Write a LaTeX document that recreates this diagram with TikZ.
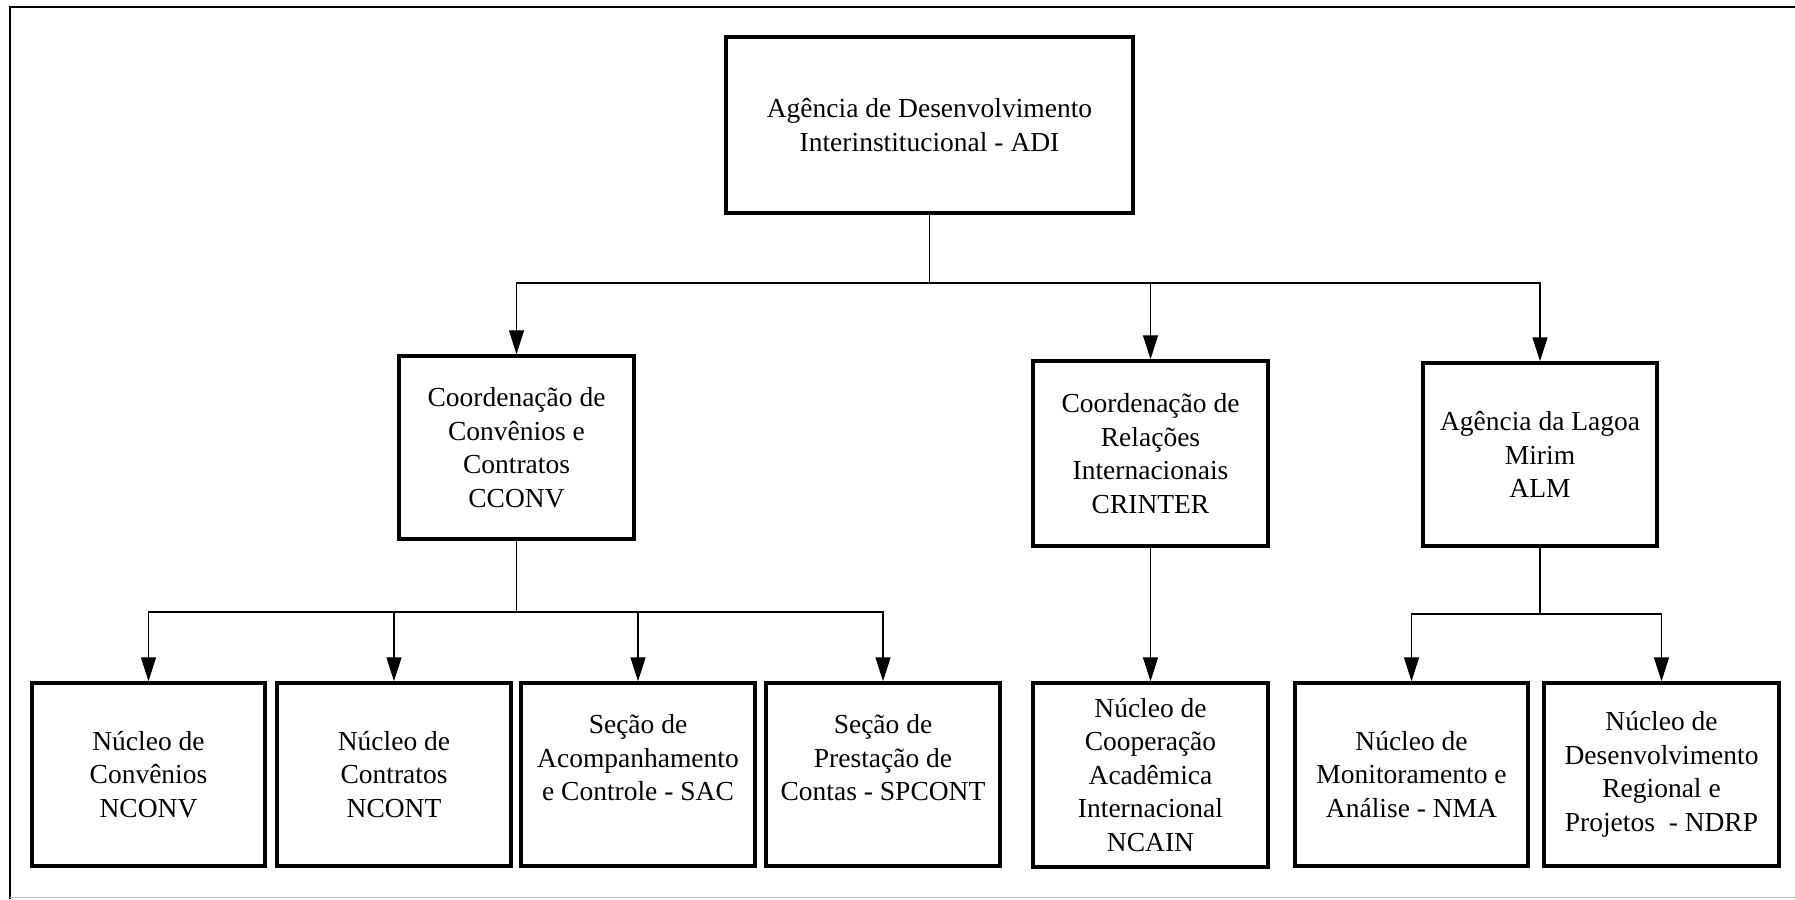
\documentclass[tikz,border=0pt]{standalone}
\usepackage{fontspec}
\setmainfont{Liberation Serif}
\usetikzlibrary{arrows.meta}
\begin{document}
\begin{tikzpicture}[x=1pt,y=-1pt,
  box/.style={draw=black,line width=3.5pt,rectangle,align=center,inner sep=2pt,
    font=\fontsize{27.5}{33.5}\selectfont},
  conn/.style={draw=black,line width=1.3pt},
  arr/.style={conn,-{Triangle[length=24pt,width=15pt]}}]
\useasboundingbox (0,0) rectangle (1795,899);
% frame
\draw[line width=2.5pt] (10,899) -- (10,7) -- (1795,7);
\draw[line width=1.5pt,black!25] (10,897.5) -- (1795,897.5);
% boxes
\node[box,minimum width=407pt,minimum height=176pt] (adi) at (929.5,125)
  {Agência de Desenvolvimento\\Interinstitucional - ADI};
\node[box,minimum width=235pt,minimum height=183pt] (cconv) at (516.5,447.5)
  {Coordenação de\\Convênios e\\Contratos\\CCONV};
\node[box,minimum width=235pt,minimum height=185pt] (crinter) at (1150.5,453.5)
  {Coordenação de\\Relações\\Internacionais\\CRINTER};
\node[box,minimum width=234pt,minimum height=183pt] (alm) at (1540,454.5)
  {Agência da Lagoa\\Mirim\\ALM};
\node[box,minimum width=233pt,minimum height=183pt] (nconv) at (148.5,774.5)
  {Núcleo de\\Convênios\\NCONV};
\node[box,minimum width=234pt,minimum height=183pt] (ncont) at (394,774.5)
  {Núcleo de\\Contratos\\NCONT};
\node[box,minimum width=234pt,minimum height=183pt] (sac) at (638,774.5)
  {Seção de\\Acompanhamento\\e Controle - SAC\\\mbox{}};
\node[box,minimum width=234pt,minimum height=183pt] (spcont) at (883,774.5)
  {Seção de\\Prestação de\\Contas - SPCONT\\\mbox{}};
\node[box,minimum width=235pt,minimum height=184pt] (ncain) at (1150.5,775)
  {Núcleo de\\Cooperação\\Acadêmica\\Internacional\\NCAIN};
\node[box,minimum width=233pt,minimum height=183pt] (nma) at (1411.5,774.5)
  {Núcleo de\\Monitoramento e\\Análise - NMA};
\node[box,minimum width=235pt,minimum height=183pt] (ndrp) at (1661.5,774.5)
  {Núcleo de\\Desenvolvimento\\Regional e\\Projetos~ - NDRP};
% connectors
\coordinate (b1) at (929.5,283);
\coordinate (b2) at (516.5,612);
\coordinate (b3) at (1540,614);
\draw[conn] (adi.south) -- (b1);
\draw[arr] (b1) -| (cconv.north);
\draw[arr] (b1) -| (crinter.north);
\draw[arr] (b1) -| (alm.north);
\draw[conn] (cconv.south) -- (b2);
\draw[arr] (b2) -| (nconv.north);
\draw[arr] (b2) -| (ncont.north);
\draw[arr] (b2) -| (sac.north);
\draw[arr] (b2) -| (spcont.north);
\draw[arr] (crinter.south) -- (ncain.north);
\draw[conn] (alm.south) -- (b3);
\draw[arr] (b3) -| (nma.north);
\draw[arr] (b3) -| (ndrp.north);
\end{tikzpicture}
\end{document}
